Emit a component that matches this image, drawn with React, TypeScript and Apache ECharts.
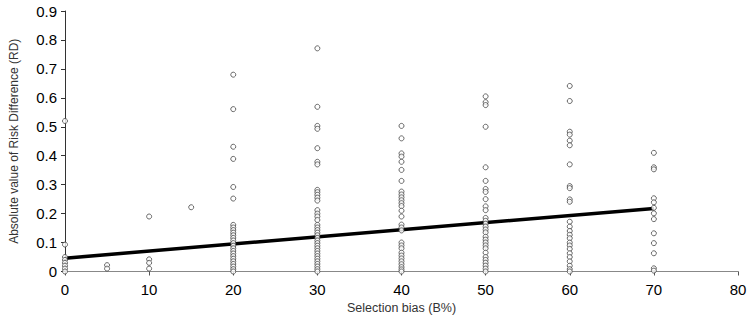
import React, { useEffect, useRef } from "react";
import * as echarts from "echarts";

// Absolute risk difference observed at each level of selection bias (B%)
const bias0 = [0.52, 0.093, 0.05, 0.04, 0.03, 0.02, 0.01, 0.0];
const bias5 = [0.022, 0.01];
const bias10 = [0.19, 0.042, 0.03, 0.01];
const bias15 = [0.222];
const bias20 = [
  0.68, 0.561, 0.431, 0.389, 0.292, 0.252, 0.161, 0.152, 0.143, 0.134, 0.125,
  0.116, 0.107, 0.098, 0.089, 0.08, 0.071, 0.062, 0.053, 0.044, 0.035, 0.026,
  0.017, 0.008, 0.0,
];
const bias30 = [
  0.771, 0.569, 0.503, 0.493, 0.426, 0.379, 0.37, 0.282, 0.274, 0.265, 0.255,
  0.245, 0.212, 0.2, 0.19, 0.178, 0.161, 0.152, 0.143, 0.134, 0.125, 0.116,
  0.107, 0.098, 0.089, 0.08, 0.071, 0.062, 0.053, 0.044, 0.035, 0.026, 0.017,
  0.008, 0.0,
];
const bias40 = [
  0.503, 0.46, 0.408, 0.397, 0.379, 0.351, 0.313, 0.276, 0.266, 0.256, 0.246,
  0.236, 0.226, 0.21, 0.19, 0.162, 0.152, 0.142, 0.1, 0.09, 0.08, 0.065, 0.055,
  0.045, 0.035, 0.025, 0.015, 0.007, 0.0,
];
const bias50 = [
  0.605, 0.585, 0.575, 0.5, 0.36, 0.313, 0.285, 0.275, 0.25, 0.225, 0.212,
  0.185, 0.175, 0.165, 0.155, 0.145, 0.135, 0.12, 0.11, 0.1, 0.09, 0.08, 0.065,
  0.05, 0.04, 0.03, 0.02, 0.01, 0.0,
];
const bias60 = [
  0.641, 0.589, 0.483, 0.473, 0.452, 0.436, 0.37, 0.295, 0.288, 0.249, 0.241,
  0.172, 0.155, 0.14, 0.127, 0.115, 0.1, 0.09, 0.078, 0.063, 0.05, 0.035,
  0.02, 0.008, 0.0,
];
const bias70 = [
  0.41, 0.36, 0.353, 0.253, 0.239, 0.22, 0.201, 0.181, 0.132, 0.098, 0.063,
  0.011, 0.003,
];

const biasLevels = [0, 5, 10, 15, 20, 30, 40, 50, 60, 70];
const riskByLevel = [
  bias0, bias5, bias10, bias15, bias20, bias30, bias40, bias50, bias60, bias70,
];

// Fitted linear trend, evaluated at the ends of the observed range
const trendX = [0, 70];
const trendY = [0.046, 0.218];

const xTicks = [0, 10, 20, 30, 40, 50, 60, 70, 80];
const yTicks = [0, 0.1, 0.2, 0.3, 0.4, 0.5, 0.6, 0.7, 0.8, 0.9];

const FONT = "Liberation Sans, Arial, sans-serif";

export default function App() {
  const ref = useRef<HTMLDivElement>(null);

  useEffect(() => {
    if (!ref.current) return;
    const chart = echarts.init(ref.current, undefined, { renderer: "svg" });

    const points: number[][] = [];
    biasLevels.forEach((b, i) => {
      riskByLevel[i].forEach((v) => points.push([b, v]));
    });

    chart.setOption({
      animation: false,
      backgroundColor: "#ffffff",
      grid: { left: 59, right: 12, top: 11, bottom: 60.5, containLabel: false },
      xAxis: {
        type: "value",
        min: xTicks[0],
        max: xTicks[xTicks.length - 1],
        interval: 10,
        name: "Selection bias (B%)",
        nameLocation: "middle",
        nameGap: 26,
        nameTextStyle: { fontFamily: FONT, fontSize: 12.5, color: "#333" },
        axisLine: { show: true, onZero: false, lineStyle: { color: "#888", width: 1 } },
        axisTick: { show: true, inside: false, length: 4, lineStyle: { color: "#555" } },
        axisLabel: {
          fontFamily: FONT,
          fontSize: 15,
          color: "#000",
          margin: 10,
        },
        splitLine: { show: false },
      },
      yAxis: {
        type: "value",
        min: yTicks[0],
        max: yTicks[yTicks.length - 1],
        interval: 0.1,
        name: "Absolute value of Risk Difference (RD)",
        nameLocation: "middle",
        nameGap: 45,
        nameTextStyle: { fontFamily: FONT, fontSize: 12, color: "#333" },
        axisLine: { show: true, lineStyle: { color: "#333", width: 1 } },
        axisTick: { show: true, inside: false, length: 4, lineStyle: { color: "#333" } },
        axisLabel: {
          fontFamily: FONT,
          fontSize: 15,
          color: "#000",
          margin: 8,
          formatter: (v: number) => (v === 0 ? "0" : v.toFixed(1)),
        },
        splitLine: { show: false },
      },
      series: [
        {
          type: "line",
          data: trendX.map((x, i) => [x, trendY[i]]),
          symbol: "none",
          lineStyle: { color: "#000", width: 3.5 },
          z: 3,
          silent: true,
        },
        {
          type: "scatter",
          data: points,
          symbol: "circle",
          symbolSize: 5,
          itemStyle: { color: "#ffffff", borderColor: "#444", borderWidth: 1 },
          z: 4,
        },
      ],
    });

    return () => chart.dispose();
  }, []);

  return (
    <div
      ref={ref}
      style={{ position: "fixed", left: 0, top: 0, width: 750, height: 332 }}
    />
  );
}
